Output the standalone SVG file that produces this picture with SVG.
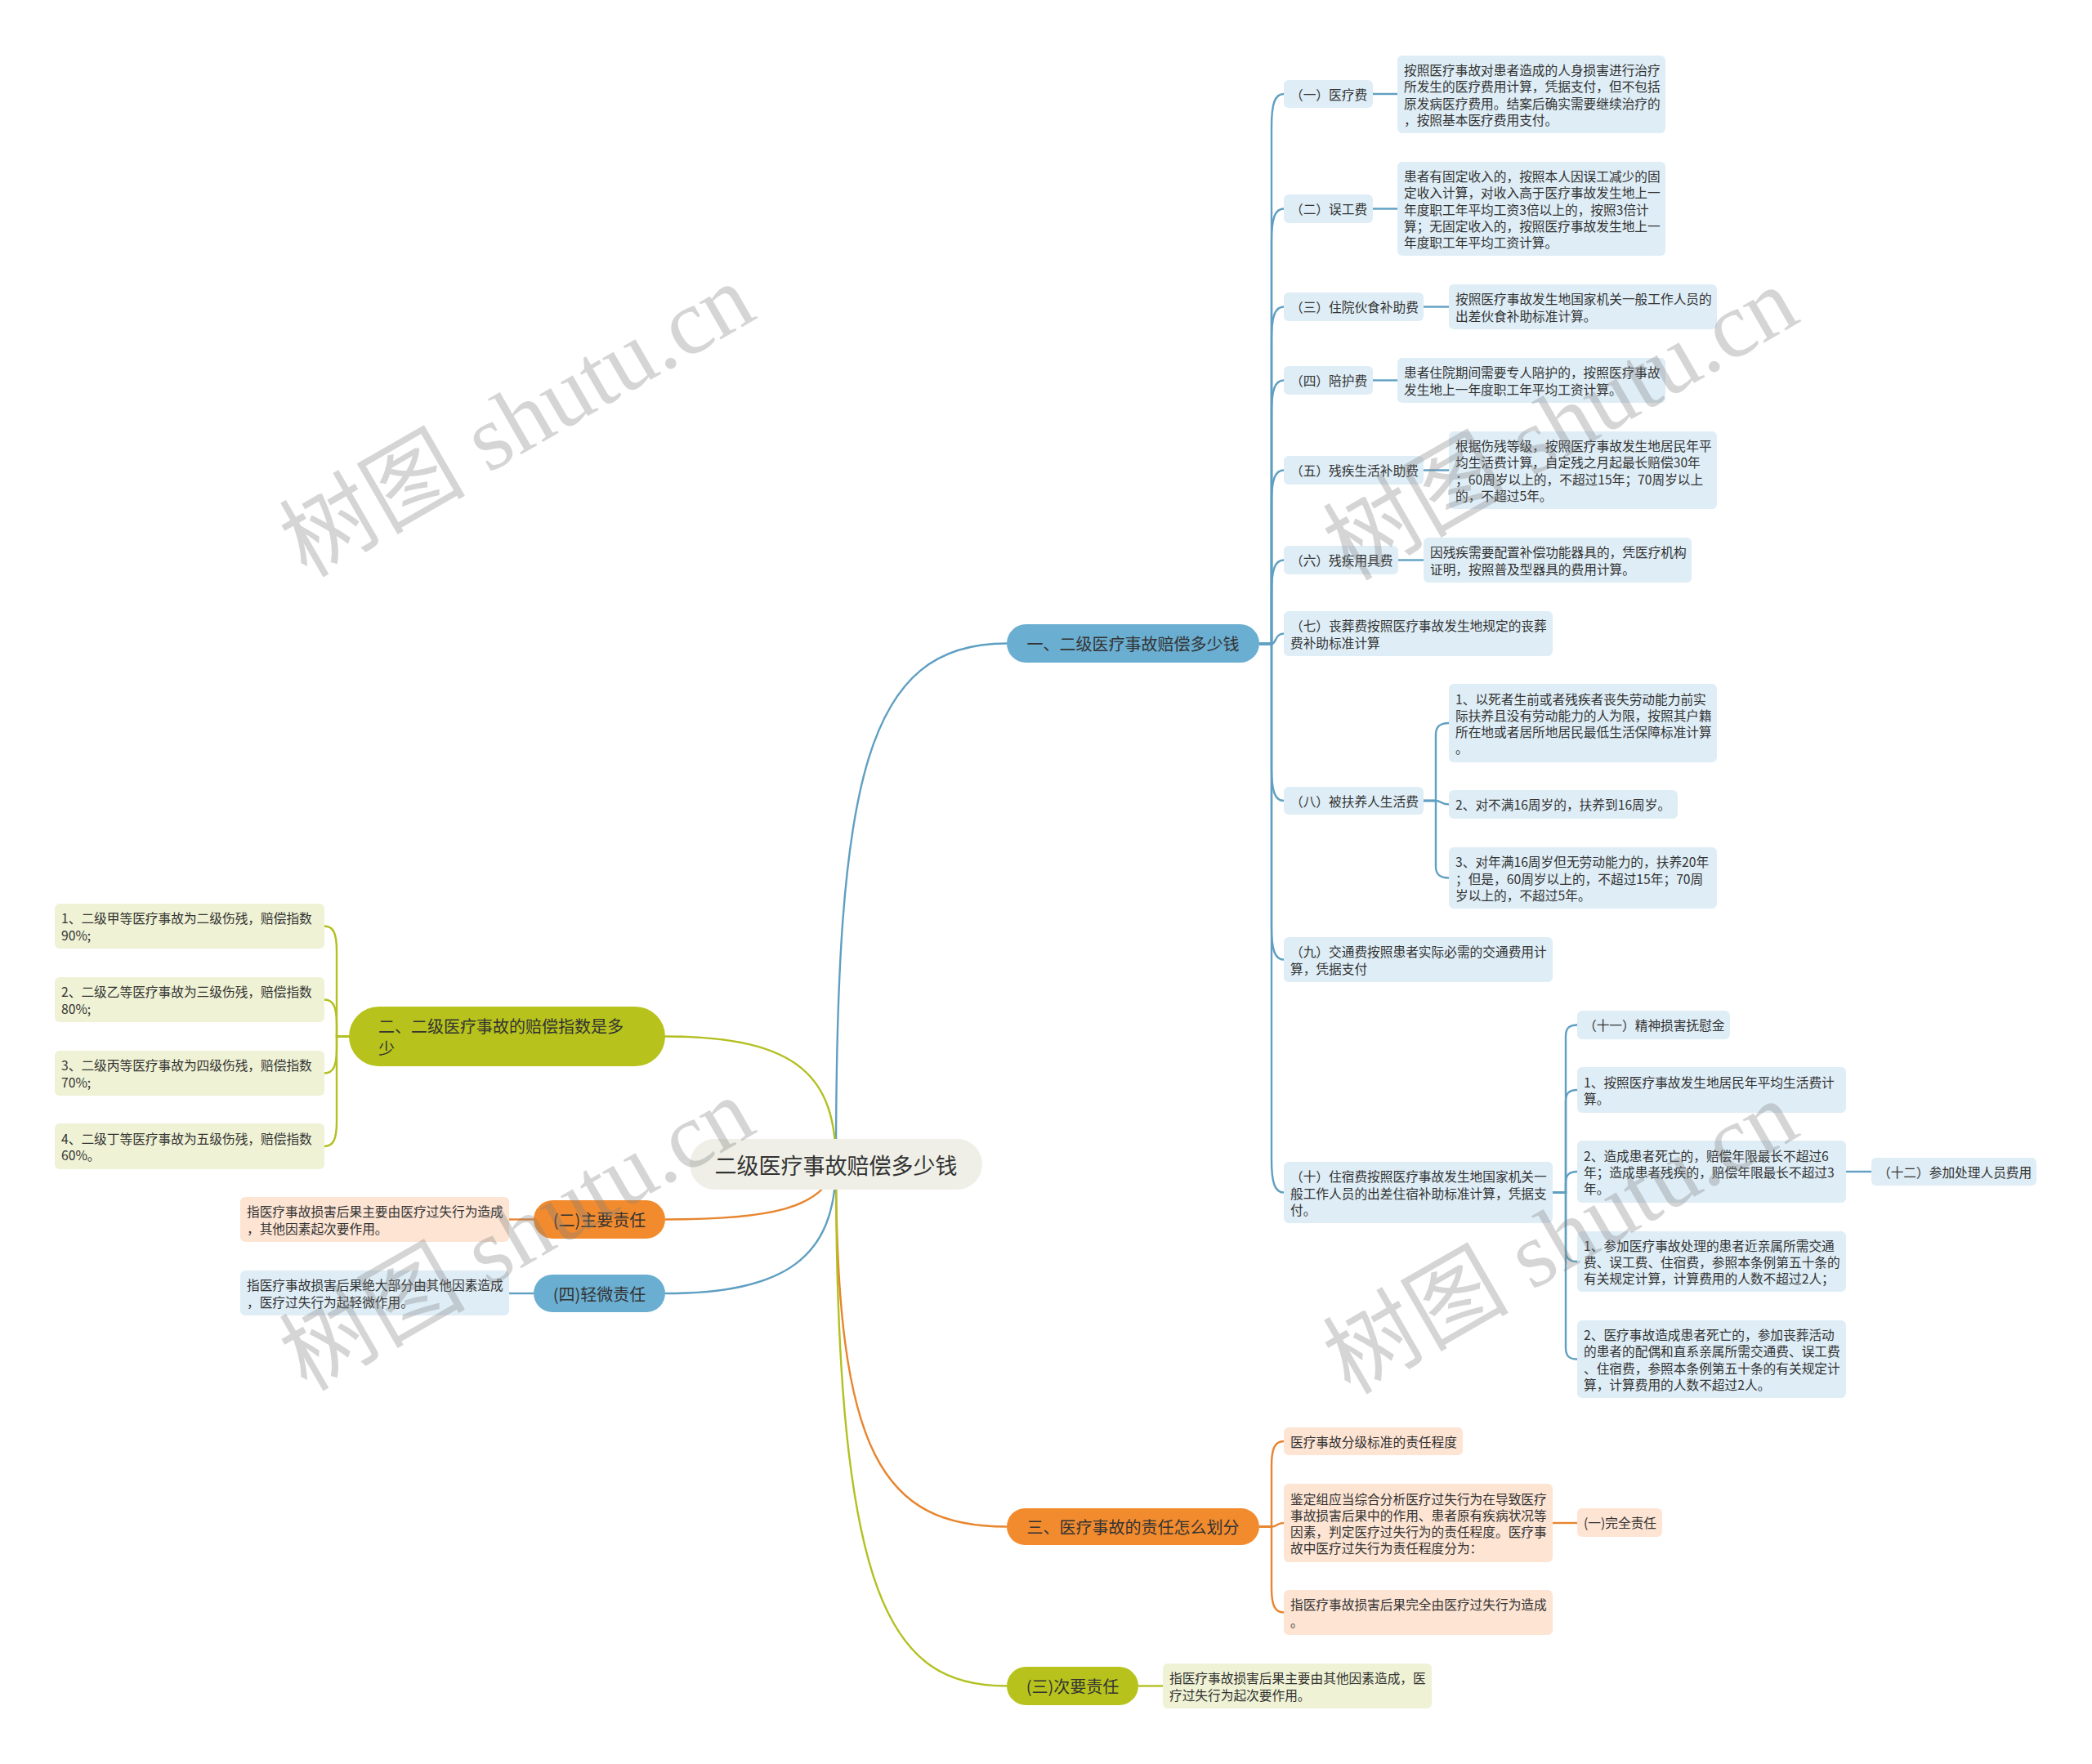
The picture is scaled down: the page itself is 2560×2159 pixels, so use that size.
<svg xmlns="http://www.w3.org/2000/svg" width="2560" height="2159" viewBox="0 0 2560 2159">
<style>
text{font-family:"Noto Sans CJK SC","Noto Sans",sans-serif;fill:#333;dominant-baseline:central}
.s{font-size:15.7px}
.m{font-size:20px}
.r{font-size:27px}
.c{text-anchor:middle}
.lb{fill:#deedf6}.lg{fill:#eff2d4}.lo{fill:#fde4d3}
.nb{fill:#6aaed1}.ng{fill:#b7c31c}.no{fill:#f28b2e}
.cb{fill:none;stroke:#5f9fc2;stroke-width:2.4}
.cg{fill:none;stroke:#b3c021;stroke-width:2.4}
.co{fill:none;stroke:#e8852f;stroke-width:2.4}
.wm{font-family:"Liberation Serif","Noto Sans CJK SC",serif;font-size:114px;fill:#808080;fill-opacity:0.33;dominant-baseline:auto}
</style>
<rect width="2560" height="2159" fill="#ffffff"/>
<g id="connectors">
<path class="cb" d="M1023 1425 C1023 950 1060 787.5 1232 787.5"/>
<path class="cg" d="M1023 1425 C1023 1320 980 1268.5 814 1268.5"/>
<path class="co" d="M1023 1425 C1010 1480 940 1492.5 814 1492.5"/>
<path class="cb" d="M1023 1425 C1023 1540 960 1583 814 1583"/>
<path class="co" d="M1023 1425 C1023 1780 1080 1868.5 1232 1868.5"/>
<path class="cg" d="M1023 1425 C1023 1960 1090 2063.5 1232 2063.5"/>
<path class="cb" d="M1541 788 H1556 V155 C1556 127 1560 115 1571 115"/>
<path class="cb" d="M1541 788 H1556 V295.5 C1556 267.5 1560 255.5 1571 255.5"/>
<path class="cb" d="M1541 788 H1556 V415.5 C1556 387.5 1560 375.5 1571 375.5"/>
<path class="cb" d="M1541 788 H1556 V505.5 C1556 477.5 1560 465.5 1571 465.5"/>
<path class="cb" d="M1541 788 H1556 V615.5 C1556 587.5 1560 575.5 1571 575.5"/>
<path class="cb" d="M1541 788 H1556 V725.5 C1556 697.5 1560 685.5 1571 685.5"/>
<path class="cb" d="M1541 788 H1556 C1562 788 1560 775.5 1571 775.5"/>
<path class="cb" d="M1541 788 H1556 V940 C1556 968 1560 980 1571 980"/>
<path class="cb" d="M1541 788 H1556 V1134.5 C1556 1162.5 1560 1174.5 1571 1174.5"/>
<path class="cb" d="M1541 788 H1556 V1419.5 C1556 1447.5 1560 1459.5 1571 1459.5"/>
<path class="cb" d="M1680 115 H1710"/>
<path class="cb" d="M1680 255.5 H1710"/>
<path class="cb" d="M1742 375.5 H1773"/>
<path class="cb" d="M1680 465.5 H1710"/>
<path class="cb" d="M1742 575.5 H1773"/>
<path class="cb" d="M1711 685.5 H1742"/>
<path class="cb" d="M1742 980 H1757 V899 C1757 889 1762 885 1773 885"/>
<path class="cb" d="M1742 980 H1757 C1764 980 1763 984.5 1773 984.5"/>
<path class="cb" d="M1742 980 H1757 V1060.5 C1757 1070.5 1762 1074.5 1773 1074.5"/>
<path class="cb" d="M1900 1459.5 H1916 V1268.5 C1916 1258.5 1920 1254.5 1930 1254.5"/>
<path class="cb" d="M1900 1459.5 H1916 V1348 C1916 1338 1920 1334 1930 1334"/>
<path class="cb" d="M1900 1459.5 H1916 V1448 C1916 1438 1920 1434 1930 1434"/>
<path class="cb" d="M1900 1459.5 H1916 V1530 C1916 1540 1920 1544 1930 1544"/>
<path class="cb" d="M1900 1459.5 H1916 V1649.5 C1916 1659.5 1920 1663.5 1930 1663.5"/>
<path class="cb" d="M2259 1434 H2290"/>
<path class="cg" d="M427 1268.5 H412 V1163.5 C412 1142.5 408 1133.5 397 1133.5"/>
<path class="cg" d="M427 1268.5 H412 V1253.5 C412 1232.5 408 1223.5 397 1223.5"/>
<path class="cg" d="M427 1268.5 H412 V1283.5 C412 1304.5 408 1313.5 397 1313.5"/>
<path class="cg" d="M427 1268.5 H412 V1373 C412 1394 408 1403 397 1403"/>
<path class="co" d="M653 1492.5 H623"/>
<path class="cb" d="M653 1583 H623"/>
<path class="co" d="M1541 1868.5 H1556 V1794 C1556 1773 1560 1764 1571 1764"/>
<path class="co" d="M1541 1868.5 H1556 C1563 1868.5 1562 1864 1571 1864"/>
<path class="co" d="M1541 1868.5 H1556 V1943.5 C1556 1964.5 1560 1973.5 1571 1973.5"/>
<path class="co" d="M1900 1864 H1930"/>
<path class="cg" d="M1393 2063.5 H1423"/>
</g>
<g id="root"><rect x="844" y="1394" width="358" height="62" rx="31" fill="#efefe7"/><text class="r c" x="1023" y="1425">二级医疗事故赔偿多少钱</text></g>
<g id="b1"><rect class="nb" x="1232" y="764" width="309" height="47" rx="23.5"/><text class="m c" x="1386.5" y="787.5">一、二级医疗事故赔偿多少钱</text></g>
<g id="b1-1"><rect class="lb" x="1571" y="98" width="109" height="34" rx="6"/><text class="s" x="1579" y="115">（一）医疗费</text></g>
<g id="b1-1t"><rect class="lb" x="1710" y="68" width="328" height="95" rx="6"/><text class="s"><tspan x="1718" y="85.05">按照医疗事故对患者造成的人身损害进行治疗</tspan><tspan x="1718" y="105.35">所发生的医疗费用计算，凭据支付，但不包括</tspan><tspan x="1718" y="125.65">原发病医疗费用。结案后确实需要继续治疗的</tspan><tspan x="1718" y="145.95">，按照基本医疗费用支付。</tspan></text></g>
<g id="b1-2"><rect class="lb" x="1571" y="238" width="109" height="35" rx="6"/><text class="s" x="1579" y="255.5">（二）误工费</text></g>
<g id="b1-2t"><rect class="lb" x="1710" y="198" width="328" height="115" rx="6"/><text class="s"><tspan x="1718" y="214.9">患者有固定收入的，按照本人因误工减少的固</tspan><tspan x="1718" y="235.2">定收入计算，对收入高于医疗事故发生地上一</tspan><tspan x="1718" y="255.5">年度职工年平均工资3倍以上的，按照3倍计</tspan><tspan x="1718" y="275.8">算；无固定收入的，按照医疗事故发生地上一</tspan><tspan x="1718" y="296.1">年度职工年平均工资计算。</tspan></text></g>
<g id="b1-3"><rect class="lb" x="1571" y="358" width="171" height="35" rx="6"/><text class="s" x="1579" y="375.5">（三）住院伙食补助费</text></g>
<g id="b1-3t"><rect class="lb" x="1773" y="348" width="328" height="55" rx="6"/><text class="s"><tspan x="1781" y="365.35">按照医疗事故发生地国家机关一般工作人员的</tspan><tspan x="1781" y="385.65">出差伙食补助标准计算。</tspan></text></g>
<g id="b1-4"><rect class="lb" x="1571" y="448" width="109" height="35" rx="6"/><text class="s" x="1579" y="465.5">（四）陪护费</text></g>
<g id="b1-4t"><rect class="lb" x="1710" y="438" width="328" height="55" rx="6"/><text class="s"><tspan x="1718" y="455.35">患者住院期间需要专人陪护的，按照医疗事故</tspan><tspan x="1718" y="475.65">发生地上一年度职工年平均工资计算。</tspan></text></g>
<g id="b1-5"><rect class="lb" x="1571" y="558" width="171" height="35" rx="6"/><text class="s" x="1579" y="575.5">（五）残疾生活补助费</text></g>
<g id="b1-5t"><rect class="lb" x="1773" y="528" width="328" height="95" rx="6"/><text class="s"><tspan x="1781" y="545.05">根据伤残等级，按照医疗事故发生地居民年平</tspan><tspan x="1781" y="565.35">均生活费计算，自定残之月起最长赔偿30年</tspan><tspan x="1781" y="585.65">；60周岁以上的，不超过15年；70周岁以上</tspan><tspan x="1781" y="605.95">的，不超过5年。</tspan></text></g>
<g id="b1-6"><rect class="lb" x="1571" y="668" width="140" height="35" rx="6"/><text class="s" x="1579" y="685.5">（六）残疾用具费</text></g>
<g id="b1-6t"><rect class="lb" x="1742" y="658" width="328" height="55" rx="6"/><text class="s"><tspan x="1750" y="675.35">因残疾需要配置补偿功能器具的，凭医疗机构</tspan><tspan x="1750" y="695.65">证明，按照普及型器具的费用计算。</tspan></text></g>
<g id="b1-7"><rect class="lb" x="1571" y="748" width="329" height="55" rx="6"/><text class="s"><tspan x="1579" y="765.35">（七）丧葬费按照医疗事故发生地规定的丧葬</tspan><tspan x="1579" y="785.65">费补助标准计算</tspan></text></g>
<g id="b1-8"><rect class="lb" x="1571" y="963" width="171" height="34" rx="6"/><text class="s" x="1579" y="980">（八）被扶养人生活费</text></g>
<g id="b1-8-1"><rect class="lb" x="1773" y="837" width="328" height="96" rx="6"/><text class="s"><tspan x="1781" y="854.55">1、以死者生前或者残疾者丧失劳动能力前实</tspan><tspan x="1781" y="874.85">际扶养且没有劳动能力的人为限，按照其户籍</tspan><tspan x="1781" y="895.15">所在地或者居所地居民最低生活保障标准计算</tspan><tspan x="1781" y="915.45">。</tspan></text></g>
<g id="b1-8-2"><rect class="lb" x="1773" y="967" width="280" height="35" rx="6"/><text class="s" x="1781" y="984.5">2、对不满16周岁的，扶养到16周岁。</text></g>
<g id="b1-8-3"><rect class="lb" x="1773" y="1037" width="328" height="75" rx="6"/><text class="s"><tspan x="1781" y="1054.2">3、对年满16周岁但无劳动能力的，扶养20年</tspan><tspan x="1781" y="1074.5">；但是，60周岁以上的，不超过15年；70周</tspan><tspan x="1781" y="1094.8">岁以上的，不超过5年。</tspan></text></g>
<g id="b1-9"><rect class="lb" x="1571" y="1147" width="329" height="55" rx="6"/><text class="s"><tspan x="1579" y="1164.35">（九）交通费按照患者实际必需的交通费用计</tspan><tspan x="1579" y="1184.65">算，凭据支付</tspan></text></g>
<g id="b1-10"><rect class="lb" x="1571" y="1422" width="329" height="75" rx="6"/><text class="s"><tspan x="1579" y="1439.2">（十）住宿费按照医疗事故发生地国家机关一</tspan><tspan x="1579" y="1459.5">般工作人员的出差住宿补助标准计算，凭据支</tspan><tspan x="1579" y="1479.8">付。</tspan></text></g>
<g id="b1-11"><rect class="lb" x="1930" y="1237" width="187" height="35" rx="6"/><text class="s" x="1938" y="1254.5">（十一）精神损害抚慰金</text></g>
<g id="b1-10-1"><rect class="lb" x="1930" y="1306" width="329" height="56" rx="6"/><text class="s"><tspan x="1938" y="1323.85">1、按照医疗事故发生地居民年平均生活费计</tspan><tspan x="1938" y="1344.15">算。</tspan></text></g>
<g id="b1-10-2"><rect class="lb" x="1930" y="1396" width="329" height="76" rx="6"/><text class="s"><tspan x="1938" y="1413.7">2、造成患者死亡的，赔偿年限最长不超过6</tspan><tspan x="1938" y="1434">年；造成患者残疾的，赔偿年限最长不超过3</tspan><tspan x="1938" y="1454.3">年。</tspan></text></g>
<g id="b1-12"><rect class="lb" x="2290" y="1417" width="202" height="34" rx="6"/><text class="s" x="2298" y="1434">（十二）参加处理人员费用</text></g>
<g id="b1-10-3"><rect class="lb" x="1930" y="1507" width="329" height="74" rx="6"/><text class="s"><tspan x="1938" y="1523.7">1、参加医疗事故处理的患者近亲属所需交通</tspan><tspan x="1938" y="1544">费、误工费、住宿费，参照本条例第五十条的</tspan><tspan x="1938" y="1564.3">有关规定计算，计算费用的人数不超过2人；</tspan></text></g>
<g id="b1-10-4"><rect class="lb" x="1930" y="1616" width="329" height="95" rx="6"/><text class="s"><tspan x="1938" y="1633.05">2、医疗事故造成患者死亡的，参加丧葬活动</tspan><tspan x="1938" y="1653.35">的患者的配偶和直系亲属所需交通费、误工费</tspan><tspan x="1938" y="1673.65">、住宿费，参照本条例第五十条的有关规定计</tspan><tspan x="1938" y="1693.95">算，计算费用的人数不超过2人。</tspan></text></g>
<g id="b2"><rect class="ng" x="427" y="1232" width="387" height="73" rx="36.5"/><text class="m"><tspan x="463" y="1255">二、二级医疗事故的赔偿指数是多</tspan><tspan x="463" y="1282">少</tspan></text></g>
<g id="b2-1"><rect class="lg" x="67" y="1106" width="330" height="55" rx="6"/><text class="s"><tspan x="75" y="1123.35">1、二级甲等医疗事故为二级伤残，赔偿指数</tspan><tspan x="75" y="1143.65">90%;</tspan></text></g>
<g id="b2-2"><rect class="lg" x="67" y="1196" width="330" height="55" rx="6"/><text class="s"><tspan x="75" y="1213.35">2、二级乙等医疗事故为三级伤残，赔偿指数</tspan><tspan x="75" y="1233.65">80%;</tspan></text></g>
<g id="b2-3"><rect class="lg" x="67" y="1286" width="330" height="55" rx="6"/><text class="s"><tspan x="75" y="1303.35">3、二级丙等医疗事故为四级伤残，赔偿指数</tspan><tspan x="75" y="1323.65">70%;</tspan></text></g>
<g id="b2-4"><rect class="lg" x="67" y="1375" width="330" height="56" rx="6"/><text class="s"><tspan x="75" y="1392.85">4、二级丁等医疗事故为五级伤残，赔偿指数</tspan><tspan x="75" y="1413.15">60%。</tspan></text></g>
<g id="zy"><rect class="no" x="653" y="1469" width="161" height="47" rx="23.5"/><text class="m c" x="733.5" y="1492.5">(二)主要责任</text></g>
<g id="zy-t"><rect class="lo" x="294" y="1465" width="329" height="55" rx="6"/><text class="s"><tspan x="302" y="1482.35">指医疗事故损害后果主要由医疗过失行为造成</tspan><tspan x="302" y="1502.65">，其他因素起次要作用。</tspan></text></g>
<g id="qw"><rect class="nb" x="653" y="1560" width="161" height="46" rx="23"/><text class="m c" x="733.5" y="1583">(四)轻微责任</text></g>
<g id="qw-t"><rect class="lb" x="294" y="1555" width="329" height="55" rx="6"/><text class="s"><tspan x="302" y="1572.35">指医疗事故损害后果绝大部分由其他因素造成</tspan><tspan x="302" y="1592.65">，医疗过失行为起轻微作用。</tspan></text></g>
<g id="b3"><rect class="no" x="1232" y="1846" width="309" height="45" rx="22.5"/><text class="m c" x="1386.5" y="1868.5">三、医疗事故的责任怎么划分</text></g>
<g id="b3-1"><rect class="lo" x="1571" y="1747" width="219" height="34" rx="6"/><text class="s" x="1579" y="1764">医疗事故分级标准的责任程度</text></g>
<g id="b3-2"><rect class="lo" x="1571" y="1816" width="329" height="96" rx="6"/><text class="s"><tspan x="1579" y="1833.55">鉴定组应当综合分析医疗过失行为在导致医疗</tspan><tspan x="1579" y="1853.85">事故损害后果中的作用、患者原有疾病状况等</tspan><tspan x="1579" y="1874.15">因素，判定医疗过失行为的责任程度。医疗事</tspan><tspan x="1579" y="1894.45">故中医疗过失行为责任程度分为：</tspan></text></g>
<g id="b3-2-1"><rect class="lo" x="1930" y="1846" width="104" height="35" rx="6"/><text class="s" x="1938" y="1863.5">(一)完全责任</text></g>
<g id="b3-3"><rect class="lo" x="1571" y="1946" width="329" height="55" rx="6"/><text class="s"><tspan x="1579" y="1963.35">指医疗事故损害后果完全由医疗过失行为造成</tspan><tspan x="1579" y="1983.65">。</tspan></text></g>
<g id="cy"><rect class="ng" x="1232" y="2040" width="161" height="47" rx="23.5"/><text class="m c" x="1312.5" y="2063.5">(三)次要责任</text></g>
<g id="cy-t"><rect class="lg" x="1423" y="2036" width="329" height="55" rx="6"/><text class="s"><tspan x="1431" y="2053.35">指医疗事故损害后果主要由其他因素造成，医</tspan><tspan x="1431" y="2073.65">疗过失行为起次要作用。</tspan></text></g>
<g id="watermarks">
<text class="wm" x="375" y="708" transform="rotate(-30 375 708)">树图 shutu.cn</text>
<text class="wm" x="1652" y="712" transform="rotate(-30 1652 712)">树图 shutu.cn</text>
<text class="wm" x="375" y="1704" transform="rotate(-30 375 1704)">树图 shutu.cn</text>
<text class="wm" x="1652" y="1708" transform="rotate(-30 1652 1708)">树图 shutu.cn</text>
</g>
</svg>
